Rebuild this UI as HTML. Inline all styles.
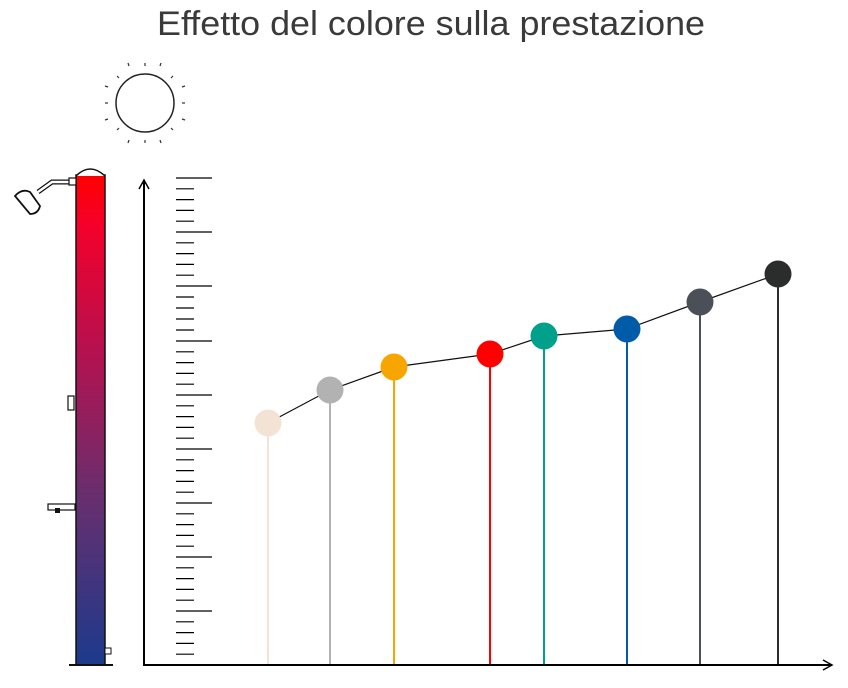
<!DOCTYPE html>
<html><head><meta charset="utf-8"><style>body{margin:0;background:#fff}svg{display:block}</style></head>
<body>
<svg width="848" height="688" viewBox="0 0 848 688" xmlns="http://www.w3.org/2000/svg">
<defs>
<linearGradient id="g" x1="0" y1="0" x2="0" y2="1">
<stop offset="0" stop-color="#ff0000"/>
<stop offset="0.1" stop-color="#f5002a"/>
<stop offset="0.35" stop-color="#b8104e"/>
<stop offset="0.65" stop-color="#6a2e6e"/>
<stop offset="1" stop-color="#1c3a8c"/>
</linearGradient>
<marker id="a" markerWidth="12" markerHeight="12" refX="10" refY="6" orient="auto" markerUnits="userSpaceOnUse">
<path d="M1,1 L10,6 L1,11" fill="none" stroke="#000" stroke-width="1.5"/></marker>
</defs>
<text x="157" y="35" font-family="Liberation Sans, sans-serif" font-size="34" fill="#3a3a3a" textLength="548" lengthAdjust="spacingAndGlyphs">Effetto del colore sulla prestazione</text>
<circle cx="145" cy="103" r="29" fill="none" stroke="#222" stroke-width="1.5"/>
<g stroke="#333" stroke-width="1.2">
<line x1="145" y1="63" x2="145" y2="66"/><line x1="145" y1="140" x2="145" y2="143"/>
<line x1="105" y1="103" x2="108" y2="103"/><line x1="182" y1="103" x2="185" y2="103"/>
<line x1="117" y1="76" x2="119" y2="78"/><line x1="171" y1="128" x2="173" y2="130"/>
<line x1="173" y1="76" x2="171" y2="78"/><line x1="117" y1="130" x2="119" y2="128"/>
<line x1="128" y1="63" x2="129" y2="66"/><line x1="161" y1="63" x2="160" y2="66"/>
<line x1="128" y1="143" x2="129" y2="140"/><line x1="161" y1="143" x2="160" y2="140"/>
<line x1="105" y1="86" x2="108" y2="87"/><line x1="105" y1="120" x2="108" y2="119"/>
<line x1="185" y1="86" x2="182" y2="87"/><line x1="185" y1="120" x2="182" y2="119"/>
</g>
<rect x="76" y="175" width="29" height="490" fill="url(#g)" stroke="#111" stroke-width="1.5"/>
<path d="M76,176 Q90,162 105,176" fill="#fff" stroke="#111" stroke-width="1.5"/>
<line x1="69" y1="665" x2="113" y2="665" stroke="#111" stroke-width="2"/>
<path d="M72,182 L52,182 L38,192" fill="none" stroke="#111" stroke-width="5"/>
<path d="M72,182 L52,182 L38,192" fill="none" stroke="#fff" stroke-width="2.5"/>
<rect x="69" y="178" width="7" height="7" fill="#fff" stroke="#111" stroke-width="1.2"/>
<path d="M15,196 Q22,188 30,192 L40,206 Q38,214 30,214 Z" fill="#fff" stroke="#111" stroke-width="1.8"/>
<rect x="68" y="396" width="6" height="14" fill="#fff" stroke="#111" stroke-width="1.2"/>
<rect x="48" y="504" width="27" height="6" fill="#fff" stroke="#111" stroke-width="1.2"/>
<rect x="55" y="508" width="5" height="5" fill="#111"/>
<rect x="105" y="648" width="6" height="6" fill="#fff" stroke="#111" stroke-width="1"/>
<line x1="144" y1="665" x2="144" y2="180" stroke="#000" stroke-width="2" marker-end="url(#a)"/>
<line x1="143" y1="665" x2="832" y2="665" stroke="#000" stroke-width="2" marker-end="url(#a)"/>
<g stroke="#000" stroke-width="1.2">
<line x1="176" y1="178" x2="212" y2="178"/><line x1="176" y1="188.8" x2="194" y2="188.8"/><line x1="176" y1="199.6" x2="194" y2="199.6"/><line x1="176" y1="210.4" x2="194" y2="210.4"/><line x1="176" y1="221.2" x2="194" y2="221.2"/>
<line x1="176" y1="232" x2="212" y2="232"/><line x1="176" y1="242.8" x2="194" y2="242.8"/><line x1="176" y1="253.6" x2="194" y2="253.6"/><line x1="176" y1="264.4" x2="194" y2="264.4"/><line x1="176" y1="275.2" x2="194" y2="275.2"/>
<line x1="176" y1="286" x2="212" y2="286"/><line x1="176" y1="297" x2="194" y2="297"/><line x1="176" y1="308" x2="194" y2="308"/><line x1="176" y1="319" x2="194" y2="319"/><line x1="176" y1="330" x2="194" y2="330"/>
<line x1="176" y1="341" x2="212" y2="341"/><line x1="176" y1="351.8" x2="194" y2="351.8"/><line x1="176" y1="362.6" x2="194" y2="362.6"/><line x1="176" y1="373.4" x2="194" y2="373.4"/><line x1="176" y1="384.2" x2="194" y2="384.2"/>
<line x1="176" y1="395" x2="212" y2="395"/><line x1="176" y1="405.8" x2="194" y2="405.8"/><line x1="176" y1="416.6" x2="194" y2="416.6"/><line x1="176" y1="427.4" x2="194" y2="427.4"/><line x1="176" y1="438.2" x2="194" y2="438.2"/>
<line x1="176" y1="449" x2="212" y2="449"/><line x1="176" y1="459.8" x2="194" y2="459.8"/><line x1="176" y1="470.6" x2="194" y2="470.6"/><line x1="176" y1="481.4" x2="194" y2="481.4"/><line x1="176" y1="492.2" x2="194" y2="492.2"/>
<line x1="176" y1="503" x2="212" y2="503"/><line x1="176" y1="513.8" x2="194" y2="513.8"/><line x1="176" y1="524.6" x2="194" y2="524.6"/><line x1="176" y1="535.4" x2="194" y2="535.4"/><line x1="176" y1="546.2" x2="194" y2="546.2"/>
<line x1="176" y1="557" x2="212" y2="557"/><line x1="176" y1="567.8" x2="194" y2="567.8"/><line x1="176" y1="578.6" x2="194" y2="578.6"/><line x1="176" y1="589.4" x2="194" y2="589.4"/><line x1="176" y1="600.2" x2="194" y2="600.2"/>
<line x1="176" y1="611" x2="212" y2="611"/><line x1="176" y1="621.8" x2="194" y2="621.8"/><line x1="176" y1="632.6" x2="194" y2="632.6"/><line x1="176" y1="643.4" x2="194" y2="643.4"/><line x1="176" y1="654.2" x2="194" y2="654.2"/>
</g>
<polyline points="268,423 330,390 394,367 490,354 544,336 627,329 700,302 778,274" fill="none" stroke="#111" stroke-width="1.2"/>
<g stroke-width="2">
<line x1="268" y1="423" x2="268" y2="664" stroke="#f3e3d5"/>
<line x1="330" y1="390" x2="330" y2="664" stroke="#b2b2b2"/>
<line x1="394" y1="367" x2="394" y2="664" stroke="#f7a600"/>
<line x1="490" y1="354" x2="490" y2="664" stroke="#ff0000"/>
<line x1="544" y1="336" x2="544" y2="664" stroke="#00a08a"/>
<line x1="627" y1="329" x2="627" y2="664" stroke="#005ca9"/>
<line x1="700" y1="302" x2="700" y2="664" stroke="#4b4f58"/>
<line x1="778" y1="274" x2="778" y2="664" stroke="#2a2d2c"/>
</g>
<circle cx="268" cy="423" r="13.5" fill="#f3e3d5"/>
<circle cx="330" cy="390" r="13.5" fill="#b2b2b2"/>
<circle cx="394" cy="367" r="13.5" fill="#f7a600"/>
<circle cx="490" cy="354" r="13.5" fill="#ff0000"/>
<circle cx="544" cy="336" r="13.5" fill="#00a08a"/>
<circle cx="627" cy="329" r="13.5" fill="#005ca9"/>
<circle cx="700" cy="302" r="13.5" fill="#4b4f58"/>
<circle cx="778" cy="274" r="13.5" fill="#2a2d2c"/>
</svg>
</body></html>
